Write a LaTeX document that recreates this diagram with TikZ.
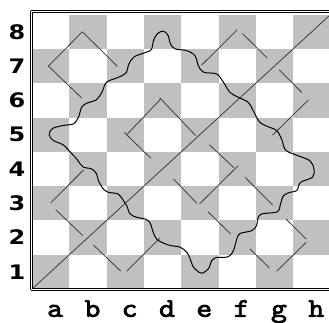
\documentclass[tikz,border=0pt]{standalone}
\usepackage{fontspec}
\newfontfamily\rankfont{DejaVu Sans}
\newfontfamily\filefont{lmmono10-regular.otf}[FakeBold=2.5]
\definecolor{darksq}{HTML}{C0C0C0}

\begin{document}
\begin{tikzpicture}[
  x = 37.3pt,
  y = 34.3pt,
  line join=round,
  move/.style  = {draw=black!78, line width=0.75pt},
  rank/.style  = {font=\rankfont\bfseries\fontsize{20}{20}\selectfont, xscale=1.2, inner sep=0pt},
  filelbl/.style = {font=\filefont\fontsize{27}{27}\selectfont, xscale=1.12, inner sep=0pt}
]
  \useasboundingbox (-0.858,-0.962) rectangle (7.962,8.426);

  % Felder
  \foreach \i in {0,...,7}
    \foreach \j in {0,2,4,6} {
      \pgfmathtruncatemacro\jj{\j+mod(\i,2)}
      \fill[darksq] (\i,\jj) rectangle ++(1,1);
    }

  % Rahmen
  \draw[line width=0.9pt, double, double distance=1.1pt]
    (-0.013,-0.02) rectangle (8.3,8.083);

  % Beschriftung
  \foreach \r in {1,...,8}
    \node[rank] (rank\r) at (-0.40,\r-0.5) {\r};
  \foreach \f [count=\c] in {a,b,c,d,e,f,g,h}
    \node[filelbl, anchor=base] (file\f) at (\c-0.38,-0.81) {\f};

  % grosse Diagonale
  \draw[move] (0.02,0.02) -- (8,8);

  % Diagonalen (steigend)
  \draw[move] (0.44,6.50) -- (1.35,7.50);
  \draw[move] (0.50,2.51) -- (1.38,3.47);
  \draw[move] (2.54,4.50) -- (3.45,5.54);
  \draw[move] (4.55,6.53) -- (5.50,7.56);
  \draw[move] (2.54,0.52) -- (3.43,1.49);
  \draw[move] (4.49,2.48) -- (5.53,3.60);
  \draw[move] (6.45,4.49) -- (7.41,5.51);
  \draw[move] (6.56,0.52) -- (7.35,1.36);

  % Diagonalen (fallend)
  \draw[move] (0.44,6.50) -- (1.33,5.57);
  \draw[move] (1.35,7.50) -- (2.29,6.49);
  \draw[move] (2.47,4.57) -- (3.18,3.82);
  \draw[move] (3.79,3.21) -- (4.42,2.50);
  \draw[move] (3.42,5.58) -- (4.39,4.47);
  \draw[move] (4.75,4.21) -- (5.42,3.53);
  \draw[move] (5.71,3.26) -- (6.45,2.45);
  \draw[move] (6.81,2.04) -- (7.35,1.46);
  \draw[move] (4.72,2.25) -- (5.33,1.60);
  \draw[move] (5.84,1.17) -- (6.36,0.62);
  \draw[move] (0.64,2.31) -- (1.36,1.56);
  \draw[move] (1.64,1.29) -- (2.38,0.52);
  \draw[move] (5.64,7.45) -- (6.31,6.73);
  \draw[move] (6.63,6.39) -- (7.23,5.73);

  % Wellenlinie
  \draw[black, line width=1pt] plot[smooth cycle, tension=0.55] coordinates {
    (0.46,4.50) (0.55,4.68) (0.84,4.77) (1.12,4.82) (1.26,5.05) (1.32,5.28)
    (1.45,5.41) (1.73,5.52) (1.88,5.75) (2.00,6.03) (2.31,6.17) (2.52,6.30)
    (2.60,6.57) (2.74,6.77) (3.05,6.90) (3.20,6.98) (3.26,7.25) (3.36,7.44)
    (3.52,7.52) (3.65,7.39) (3.71,7.15) (3.84,7.00) (4.15,6.95) (4.37,6.80)
    (4.46,6.51) (4.60,6.32) (4.95,6.27) (5.13,6.03) (5.31,5.73) (5.53,5.59)
    (5.80,5.44) (5.93,5.20) (6.11,4.86) (6.38,4.71) (6.56,4.62) (6.69,4.38)
    (6.80,4.05) (7.10,3.90) (7.45,3.74) (7.56,3.50) (7.52,3.26) (7.20,3.11)
    (7.10,2.87) (6.92,2.82) (6.74,2.72) (6.65,2.43) (6.58,2.25) (6.16,2.19)
    (6.06,2.07) (6.02,1.85) (5.89,1.70) (5.58,1.62) (5.49,1.46) (5.40,1.12)
    (5.26,0.94) (4.95,0.92) (4.82,0.83) (4.73,0.59) (4.55,0.46) (4.42,0.54)
    (4.32,0.65) (4.24,0.88) (4.15,1.07) (3.97,1.22) (3.70,1.27) (3.48,1.36)
    (3.34,1.46) (3.25,1.65) (3.16,1.94) (3.03,2.04) (2.81,2.09) (2.63,2.19)
    (2.54,2.43) (2.45,2.58) (2.31,2.77) (2.05,2.82) (1.91,2.92) (1.78,3.16)
    (1.73,3.36) (1.60,3.50) (1.38,3.55) (1.29,3.65) (1.20,3.79) (1.08,3.93)
    (0.84,4.20) (0.57,4.33)
  };
\end{tikzpicture}
\end{document}
